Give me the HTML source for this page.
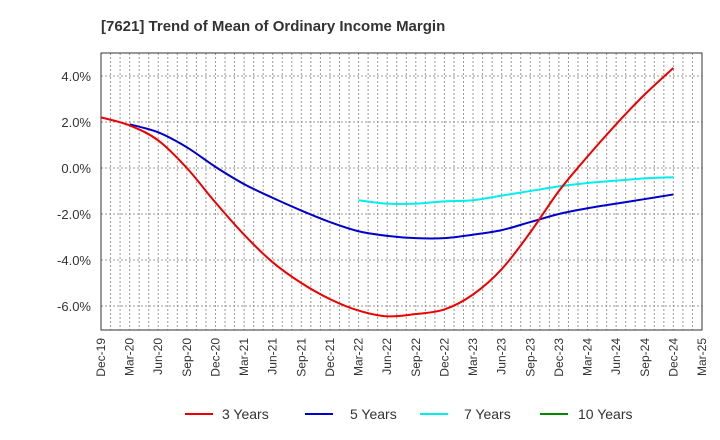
<!DOCTYPE html>
<html><head><meta charset="utf-8"><style>
body{margin:0;background:#fff;font-family:"Liberation Sans",Arial,sans-serif}
svg{display:block}
</style></head><body>
<svg id="c" width="720" height="440">
<text x="101" y="31" font-size="15" font-weight="bold" fill="#333">[7621]  Trend of Mean of Ordinary Income Margin</text>
<g id="grid"></g><g id="axes"></g><g id="series"></g>
<g font-size="14" fill="#333">
<line x1="185" y1="414" x2="213" y2="414" stroke="#e00" stroke-width="2"/>
<text x="222" y="419">3 Years</text>
<line x1="305" y1="414" x2="333" y2="414" stroke="#00c" stroke-width="2"/>
<text x="350" y="419">5 Years</text>
<line x1="420" y1="414" x2="448" y2="414" stroke="#0ee" stroke-width="2"/>
<text x="464" y="419">7 Years</text>
<line x1="540" y1="414" x2="568" y2="414" stroke="#080" stroke-width="2"/>
<text x="578" y="419">10 Years</text>
</g>
</svg>
<script>
const categories=["Dec-19","Mar-20","Jun-20","Sep-20","Dec-20","Mar-21","Jun-21","Sep-21","Dec-21","Mar-22","Jun-22","Sep-22","Dec-22","Mar-23","Jun-23","Sep-23","Dec-23","Mar-24","Jun-24","Sep-24","Dec-24","Mar-25"];
const yTicks=[4,2,0,-2,-4,-6];
const yTickLabels=["4.0%","2.0%","0.0%","-2.0%","-4.0%","-6.0%"];
const s3=[2.2,1.85,1.2,0.0,-1.5,-2.9,-4.1,-5.0,-5.7,-6.2,-6.45,-6.35,-6.15,-5.5,-4.4,-2.8,-1.0,0.5,1.9,3.2,4.35];
const s5=[null,1.9,1.55,0.9,0.05,-0.7,-1.3,-1.85,-2.35,-2.75,-2.95,-3.05,-3.05,-2.9,-2.7,-2.35,-2.0,-1.75,-1.55,-1.35,-1.15];
const s7=[null,null,null,null,null,null,null,null,null,-1.4,-1.55,-1.55,-1.45,-1.4,-1.2,-1.0,-0.8,-0.65,-0.55,-0.45,-0.4];
const L=101,R=702,T=53,B=330;
const X=i=>L+i*(R-L)/(categories.length-1);
const Y=v=>168-v*23;
const NS="http://www.w3.org/2000/svg";
function mk(p,t,a){const e=document.createElementNS(NS,t);for(const k in a)e.setAttribute(k,a[k]);p.appendChild(e);return e;}
const g=document.getElementById('grid'),ax=document.getElementById('axes'),se=document.getElementById('series');
for(let m=1;m<(categories.length-1)*3;m++){const x=L+m*(R-L)/((categories.length-1)*3);
const l=mk(g,'line',{x1:x,y1:T,x2:x,y2:B,stroke:'#999','stroke-dasharray':'2,2','stroke-width':1});

}
yTicks.forEach((v,i)=>{const l=mk(g,'line',{x1:L,y1:Y(v),x2:R,y2:Y(v),stroke:'#999','stroke-dasharray':'2,2'});


const t=mk(ax,'text',{x:91,y:Y(v)+5,'text-anchor':'end','font-size':13,fill:'#333'});t.textContent=yTickLabels[i];

});
const f=mk(ax,'rect',{x:L,y:T,width:R-L,height:B-T,fill:'none',stroke:'#333','stroke-width':1});


categories.forEach((c,i)=>{const x=X(i);const t=mk(ax,'text',{transform:`translate(${x+4},${B+8}) rotate(-90)`,'text-anchor':'end','font-size':12,fill:'#333'});t.textContent=c;

});
function path(arr){const p=[];arr.forEach((v,i)=>{if(v!==null)p.push([X(i),Y(v)]);});
let d=`M${p[0][0]},${p[0][1]}`;for(let i=0;i<p.length-1;i++){const p0=p[i-1]||p[i],p1=p[i],p2=p[i+1],p3=p[i+2]||p2;
d+=` C${p1[0]+(p2[0]-p0[0])/6},${p1[1]+(p2[1]-p0[1])/6} ${p2[0]-(p3[0]-p1[0])/6},${p2[1]-(p3[1]-p1[1])/6} ${p2[0]},${p2[1]}`;}return d;}
[[s7,'#0ee','series-7-years'],[s5,'#00c','series-5-years'],[s3,'#e00','series-3-years']].forEach(([a,c,n])=>{
const e=mk(se,'path',{d:path(a),fill:'none',stroke:c,'stroke-width':2});

});
</script>
</body></html>
